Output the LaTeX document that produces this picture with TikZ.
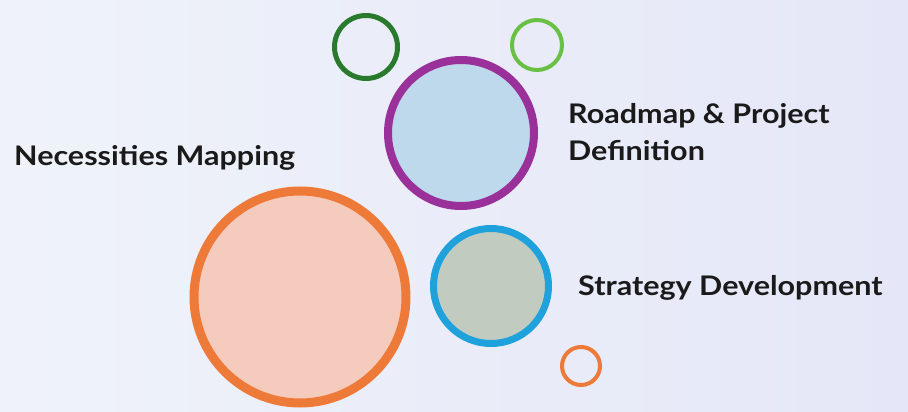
\documentclass[tikz,border=0pt]{standalone}
\usepackage{fontspec}
\setmainfont{Lato}[BoldFeatures={FakeStretch=1.13}]
\usetikzlibrary{shadows}
\definecolor{bgL}{HTML}{EFF3F9}
\definecolor{bgR}{HTML}{E5E7F8}
\definecolor{orng}{HTML}{EE7A3A}
\definecolor{orngfill}{HTML}{F5CBBD}
\definecolor{purp}{HTML}{9A309A}
\definecolor{purpfill}{HTML}{BED8EC}
\definecolor{blu}{HTML}{1FA2DC}
\definecolor{blufill}{HTML}{C2CBC0}
\definecolor{dgreen}{HTML}{2A7A2E}
\definecolor{lgreen}{HTML}{6ABF45}
\definecolor{txt}{HTML}{1A1A1A}
\tikzset{
  bubble/.style={circle, inner sep=0pt, outer sep=0pt, drop shadow={shadow xshift=1.5pt, shadow yshift=-2.5pt, opacity=0.18}},
  ring/.style={circle, inner sep=0pt, outer sep=0pt},
  label/.style={font=\bfseries\fontsize{27}{37}\selectfont, text=txt, inner sep=0pt, align=left}
}
\begin{document}
\begin{tikzpicture}[x=1pt,y=-1pt]
\useasboundingbox (0,0) rectangle (908,412);
\shade[left color=bgL, right color=bgR] (0,0) rectangle (908,412);
\begin{scope}
\clip (0,0) rectangle (908,412);
\node[bubble, draw=orng, fill=orngfill, line width=9pt, minimum size=212pt] (nec) at (300,297) {};
\end{scope}
\node[bubble, draw=purp, fill=purpfill, line width=8pt, minimum size=146pt] (road) at (461,133) {};
\node[bubble, draw=blu, fill=blufill, line width=7pt, minimum size=115pt] (strat) at (491,286) {};
\node[ring, draw=dgreen, line width=5pt, minimum size=63pt] (g1) at (366,47) {};
\node[ring, draw=lgreen, line width=4pt, minimum size=50pt] (g2) at (537,45) {};
\node[ring, draw=orng, line width=4pt, minimum size=38pt] (o2) at (581,366) {};
\node[label, anchor=base west] (t1) at (14,165) {Necessities Mapping};
\node[label, anchor=base west] (t2) at (568,160) {Roadmap \& Project\\Definition};
\node[label, anchor=base west] (t3) at (578,295) {Strategy Development};
\end{tikzpicture}
\end{document}
